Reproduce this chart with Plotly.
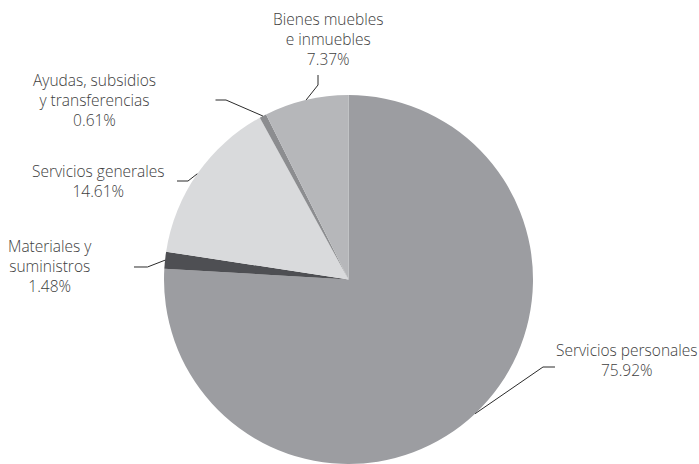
import math
import plotly.graph_objects as go

# ---- data ----
categories = ["Servicios personales", "Materiales y suministros", "Servicios generales",
              "Ayudas, subsidios y transferencias", "Bienes muebles e inmuebles"]
label_text = ["Servicios personales<br>75.92%", "Materiales y<br>suministros<br>1.48%",
              "Servicios generales<br>14.61%", "Ayudas, subsidios<br>y transferencias<br>0.61%",
              "Bienes muebles<br>e inmuebles<br>7.37%"]
values = [75.92, 1.48, 14.61, 0.61, 7.37]
colors = ["#9c9da1", "#4e4f53", "#d9dadc", "#8c8d90", "#b6b7ba"]

# ---- layout geometry (pixels) ----
W, H = 699, 464
CX, CY, R = 348.5, 279.5, 184.5
# label centre positions and leader elbow / end points
label_pos = [(627, 360), (50, 266), (98, 181), (95, 100), (328, 39)]
leader_pts = [[(543, 367), (555, 367)],
              [(147.5, 267), (134, 267)],
              [(188, 181), (177, 181)],
              [(226, 100), (215.5, 100)],
              [(318, 85), (318, 75)]]

def px(x):
    return x / W

def py(y):
    return 1 - y / H

fig = go.Figure(go.Pie(
    labels=categories, values=values, sort=False, direction="clockwise", rotation=0,
    marker=dict(colors=colors, line=dict(width=0)),
    textinfo="none", hoverinfo="label+percent", showlegend=False,
    domain=dict(x=[px(CX - R), px(CX + R)], y=[0, py(CY - R)]),
))

total = sum(values)
cum = 0.0
shapes = []
annotations = []
for i, v in enumerate(values):
    mid = (cum + v / 2) / total * 2 * math.pi
    cum += v
    ex = CX + R * math.sin(mid)
    ey = CY - R * math.cos(mid)
    pts = [(ex, ey)] + leader_pts[i]
    path = "M " + " L ".join(f"{px(a):.5f},{py(b):.5f}" for a, b in pts)
    shapes.append(dict(type="path", path=path, xref="paper", yref="paper",
                       line=dict(color="#2b2b2b", width=1)))
    lx, ly = label_pos[i]
    annotations.append(dict(x=px(lx), y=py(ly), xref="paper", yref="paper",
                            text=label_text[i], showarrow=False,
                            xanchor="center", yanchor="middle", align="center",
                            font=dict(family="Open Sans", size=15.5, weight=300, color="#404040")))

fig.update_layout(width=W, height=H, margin=dict(l=0, r=0, t=0, b=0),
                  paper_bgcolor="white", plot_bgcolor="white",
                  shapes=shapes, annotations=annotations)

fig.write_html("out.html", config={"displayModeBar": False},
               post_script="document.body.style.margin='0px';")
